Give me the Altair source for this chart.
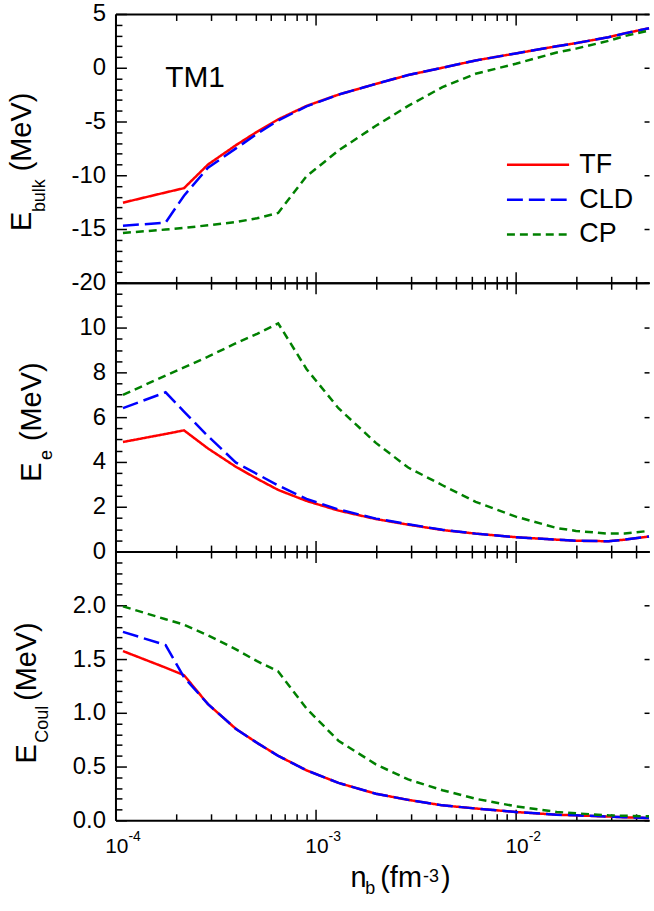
import altair as alt
import pandas as pd

FONT = "Liberation Sans"

# ---------------- data ----------------
NB = [1.09e-4, 1.78e-4, 2.2e-4, 2.9e-4, 4.0e-4, 5.1e-4, 6.5e-4, 9.0e-4, 1.3e-3, 2.0e-3,
      2.9e-3, 4.3e-3, 6.3e-3, 1.0e-2, 1.6e-2, 2.0e-2, 2.9e-2, 3.5e-2, 4.63e-2]
MODELS = ["TF", "CLD", "CP"]

BULK_TF = [-12.55, -11.6, -11.2, -9.0, -7.2, -5.95, -4.8, -3.55, -2.5, -1.5,
           -0.68, 0.0, 0.68, 1.33, 2.0, 2.29, 2.84, 3.2, 3.67]
BULK_CLD = [-14.7, -14.4, -11.9, -9.3, -7.5, -6.15, -4.9, -3.6, -2.5, -1.5,
            -0.68, 0.0, 0.68, 1.33, 2.0, 2.29, 2.84, 3.2, 3.67]
BULK_CP = [-15.37, -15.05, -14.9, -14.65, -14.35, -14.0, -13.5, -10.1, -7.7, -5.4,
           -3.55, -1.8, -0.56, 0.37, 1.42, 1.78, 2.5, 2.95, 3.46]

EE_TF = [4.89, 5.25, 5.41, 4.6, 3.78, 3.25, 2.75, 2.26, 1.83, 1.45,
         1.2, 0.96, 0.8, 0.64, 0.53, 0.48, 0.46, 0.53, 0.67]
EE_CLD = [6.4, 7.11, 6.25, 5.15, 3.97, 3.46, 2.95, 2.35, 1.88, 1.47,
          1.22, 0.97, 0.8, 0.64, 0.53, 0.48, 0.46, 0.53, 0.67]
EE_CP = [6.99, 7.86, 8.22, 8.7, 9.3, 9.72, 10.19, 8.15, 6.4, 4.85,
         3.75, 2.96, 2.22, 1.56, 1.05, 0.92, 0.8, 0.81, 0.92]

EC_TF = [1.574, 1.42, 1.35, 1.08, 0.85, 0.72, 0.6, 0.465, 0.348, 0.247,
         0.19, 0.139, 0.11, 0.077, 0.052, 0.046, 0.035, 0.028, 0.021]
EC_CLD = [1.753, 1.63, 1.33, 1.08, 0.85, 0.72, 0.6, 0.465, 0.348, 0.247,
          0.19, 0.139, 0.11, 0.077, 0.052, 0.046, 0.035, 0.028, 0.021]
EC_CP = [1.99, 1.87, 1.82, 1.72, 1.59, 1.48, 1.385, 1.04, 0.74, 0.52,
         0.38, 0.28, 0.2, 0.13, 0.078, 0.065, 0.046, 0.042, 0.037]

XMAJOR = [1e-4, 1e-3, 1e-2]
XMAJOR_EXP = ["-4", "-3", "-2"]
XMINOR = [round(k * 10.0 ** e, 8) for e in (-4, -3, -2) for k in range(2, 10)
          if k * 10.0 ** e <= 0.0463]

Y1_MAJOR = [-20, -15, -10, -5, 0, 5]
Y1_MINOR = [v for v in range(-20, 6) if v % 5 != 0]
Y2_MAJOR = [0, 2, 4, 6, 8, 10, 12]
Y2_MINOR = [i * 0.5 for i in range(0, 25) if i % 4 != 0]
Y3_MAJOR = [0.0, 0.5, 1.0, 1.5, 2.0, 2.5]
Y3_MINOR = [round(i * 0.1, 1) for i in range(0, 26) if i % 5 != 0]

# ---------------- styling ----------------
COLORS = ["#ff0000", "#0000ff", "#008000"]
DASHES = [[1, 0], [16, 6], [8, 5]]
W, H = 536, 270
XDOM = [1e-4, 0.0463]
XSCALE = alt.Scale(type="log", domain=XDOM, nice=False)
TITLE_FS, SUB_FS = 29, 18


def long_df(series):
    return pd.DataFrame([{"nb": n, "E": v, "model": m}
                         for m, vals in zip(MODELS, series) for n, v in zip(NB, vals)])


def tick_axis(orient, vals, size):
    # outward ticks on an axis pushed inside the plot by their own length -> inward ticks
    return alt.Axis(orient=orient, values=vals, labels=False, title=None, grid=False,
                    domain=False, tickSize=size, offset=-size, minExtent=0, maxExtent=0)


def line_axis(orient):
    return alt.Axis(orient=orient, ticks=False, labels=False, title=None, grid=False,
                    domain=True, minExtent=0, maxExtent=0)


def rot_text(text, size, x, y):
    return alt.Chart(pd.DataFrame({"t": [text]})).mark_text(
        angle=270, align="left", baseline="alphabetic", font=FONT, fontSize=size,
        color="black").encode(text="t:N", x=alt.value(x), y=alt.value(y))


def flat_text(text, size, x, y):
    return alt.Chart(pd.DataFrame({"t": [text]})).mark_text(
        align="left", baseline="alphabetic", font=FONT, fontSize=size,
        color="black").encode(text="t:N", x=alt.value(x), y=alt.value(y))


def panel(series, ydom, ymajor, yminor, label_test, fmt, title_parts, legend=False, extra=()):
    df = long_df(series)
    yscale = alt.Scale(domain=ydom, nice=False, zero=False)
    scol = alt.Scale(domain=MODELS, range=COLORS)
    sdash = alt.Scale(domain=MODELS, range=DASHES)
    if legend:
        leg = alt.Legend(title=None, orient="none", legendX=392, legendY=135,
                         symbolType="stroke", symbolSize=3900, symbolStrokeWidth=2.5,
                         labelFontSize=27, labelFont=FONT, labelColor="black",
                         labelOffset=9, rowPadding=2, clipHeight=33, padding=0)
        color = alt.Color("model:N", scale=scol, legend=leg)
        dash = alt.StrokeDash("model:N", scale=sdash, legend=leg)
    else:
        color = alt.Color("model:N", scale=scol, legend=None)
        dash = alt.StrokeDash("model:N", scale=sdash, legend=None)

    yleft = alt.Axis(orient="left", values=ymajor, ticks=False, title=None, grid=False,
                     domain=True, labelExpr=f"({label_test}) ? {fmt} : ''",
                     labelPadding=10, labelOverlap=False, labelFlush=False)

    def ghost(xaxis, yaxis):
        return alt.Chart(df).mark_point(opacity=0).encode(
            x=alt.X("nb:Q", scale=XSCALE, axis=xaxis),
            y=alt.Y("E:Q", scale=yscale, axis=yaxis))

    layers = [
        ghost(tick_axis("bottom", XMAJOR, 11), tick_axis("left", ymajor, 11)),
        ghost(tick_axis("bottom", XMINOR, 6.5), tick_axis("left", yminor, 6.5)),
        ghost(tick_axis("top", XMAJOR, 11), tick_axis("right", ymajor, 5)),
        ghost(tick_axis("top", XMINOR, 6.5), None),
        ghost(line_axis("top"), None),
        alt.Chart(df).mark_line(strokeWidth=2.5).encode(
            x=alt.X("nb:Q", scale=XSCALE, axis=line_axis("bottom")),
            y=alt.Y("E:Q", scale=yscale, axis=yleft),
            color=color,
            strokeDash=dash,
        ),
    ]
    for t in title_parts:
        layers.append(rot_text(*t))
    layers.extend(extra)
    return alt.layer(*layers).resolve_axis(x="independent", y="independent").properties(
        width=W, height=H)


p1 = panel(
    [BULK_TF, BULK_CLD, BULK_CP], [-20, 5], Y1_MAJOR, Y1_MINOR,
    "true", "'' + datum.value",
    [("E", TITLE_FS, -84.5, 218), ("bulk", SUB_FS, -70.5, 199), ("(MeV)", TITLE_FS, -84.5, 158)],
    legend=True,
    extra=[flat_text("TM1", 30, 50, 73)],
)

p2 = panel(
    [EE_TF, EE_CLD, EE_CP], [0, 12], Y2_MAJOR, Y2_MINOR,
    "datum.value <= 10", "'' + datum.value",
    [("E", TITLE_FS, -74.5, 200), ("e", SUB_FS, -63.5, 178), ("(MeV)", TITLE_FS, -74.5, 159)],
)

xl = pd.DataFrame({"v": XMAJOR, "base": ["10"] * len(XMAJOR), "exp": XMAJOR_EXP})
xbase = alt.Chart(xl).mark_text(align="right", baseline="alphabetic", font=FONT, fontSize=21,
                                dx=13, color="black").encode(
    x=alt.X("v:Q", scale=XSCALE, axis=None), y=alt.value(H + 33), text="base:N")
xexp = alt.Chart(xl).mark_text(align="left", baseline="alphabetic", font=FONT, fontSize=14,
                               dx=13, color="black").encode(
    x=alt.X("v:Q", scale=XSCALE, axis=None), y=alt.value(H + 21), text="exp:N")

xtitle = [flat_text("n", TITLE_FS, 236, H + 67), flat_text("b", SUB_FS, 251, H + 74),
          flat_text("(fm", TITLE_FS, 266, H + 67), flat_text("-3", SUB_FS, 309, H + 62),
          flat_text(")", TITLE_FS, 327, H + 67)]

p3 = panel(
    [EC_TF, EC_CLD, EC_CP], [0, 2.5], Y3_MAJOR, Y3_MINOR,
    "datum.value < 2.25", "format(datum.value, '.1f')",
    [("E", TITLE_FS, -79.5, 213), ("Coul", SUB_FS, -67.5, 192), ("(MeV)", TITLE_FS, -79.5, 150)],
    extra=[xbase, xexp] + xtitle,
)

chart = alt.vconcat(p1, p2, p3, spacing=0, bounds="flush").resolve_scale(
    color="independent", strokeDash="independent").resolve_legend(
    color="independent", strokeDash="independent").properties(
    padding={"left": 8, "top": 0, "right": 0, "bottom": 0}
).configure_view(stroke=None).configure_axis(
    domainColor="black", tickColor="black", labelColor="black", domainWidth=2,
    tickWidth=1.5, labelFont=FONT, labelFontSize=24
)

chart.save("out.html", embed_options={"renderer": "svg", "actions": False})
